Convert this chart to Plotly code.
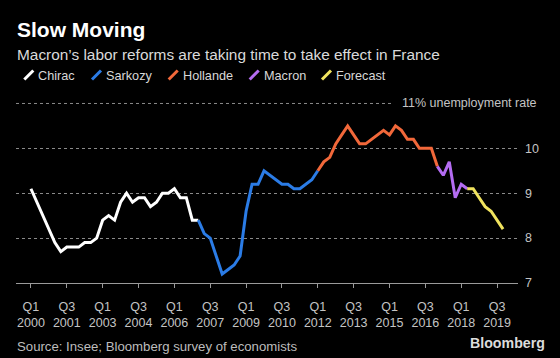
import plotly.graph_objects as go

# ---------------- data ----------------
QUARTERS = [f"Q{q} {y}" for y in range(2000, 2020) for q in range(1, 5)]

CHIRAC_START = "Q1 2000"
CHIRAC = [9.1, 8.8, 8.5, 8.2, 7.9, 7.7, 7.8, 7.8, 7.8, 7.9, 7.9, 8.0, 8.4, 8.5, 8.4,
          8.8, 9.0, 8.8, 8.9, 8.9, 8.7, 8.8, 9.0, 9.0, 9.1, 8.9, 8.9, 8.4, 8.4]
SARKOZY_START = "Q1 2007"
SARKOZY = [8.4, 8.1, 8.0, 7.6, 7.2, 7.3, 7.4, 7.6, 8.6, 9.2, 9.2, 9.5, 9.4, 9.3,
           9.2, 9.2, 9.1, 9.1, 9.2, 9.3, 9.5]
HOLLANDE_START = "Q1 2012"
HOLLANDE = [9.5, 9.7, 9.8, 10.1, 10.3, 10.5, 10.3, 10.1, 10.1, 10.2, 10.3, 10.4,
            10.3, 10.5, 10.4, 10.2, 10.2, 10.0, 10.0, 10.0, 9.6]
MACRON_START = "Q1 2017"
MACRON = [9.6, 9.4, 9.7, 8.9, 9.2, 9.1]
FORECAST_START = "Q2 2018"
FORECAST = [9.1, 9.1, 8.9, 8.7, 8.6, 8.4, 8.2]

TICK_QUARTERS = ["Q1 2000", "Q3 2001", "Q1 2003", "Q3 2004", "Q1 2006", "Q3 2007",
                 "Q1 2009", "Q3 2010", "Q1 2012", "Q3 2013", "Q1 2015", "Q3 2016",
                 "Q1 2018", "Q3 2019"]
TICK_TEXT = [q.replace(" ", "<br>") for q in TICK_QUARTERS]
Y_TICKS = [7, 8, 9, 10]

SERIES = [
    ("Chirac", CHIRAC_START, CHIRAC, "#ffffff"),
    ("Sarkozy", SARKOZY_START, SARKOZY, "#2b7ce6"),
    ("Hollande", HOLLANDE_START, HOLLANDE, "#f2683a"),
    ("Macron", MACRON_START, MACRON, "#b46cf2"),
    ("Forecast", FORECAST_START, FORECAST, "#f0e35e"),
]

# ---------------- layout helpers ----------------
W, H = 560, 358
M_L, M_R, M_T, M_B = 16, 42, 90, 75
FONT = "Liberation Sans, Arial, sans-serif"


def px_x(px):
    return (px - M_L) / (W - M_L - M_R)


def px_y(py):
    return (H - M_B - py) / (H - M_T - M_B)


fig = go.Figure()

for name, start, vals, color in SERIES:
    i0 = QUARTERS.index(start)
    fig.add_trace(go.Scatter(
        x=QUARTERS[i0:i0 + len(vals)], y=vals, mode="lines", name=name,
        line=dict(color=color, width=3), showlegend=False,
        hovertemplate="%{x}: %{y}%<extra>" + name + "</extra>"))

annotations = []
shapes = []

# title / subtitle
annotations.append(dict(text="<b>Slow Moving</b>", x=px_x(15), y=px_y(29),
                        xref="paper", yref="paper", xanchor="left", yanchor="middle",
                        showarrow=False, font=dict(family=FONT, size=21, color="#ffffff")))
annotations.append(dict(text="Macron’s labor reforms are taking time to take effect in France",
                        x=px_x(15), y=px_y(54), xref="paper", yref="paper",
                        xanchor="left", yanchor="middle", showarrow=False,
                        font=dict(family=FONT, size=15.4, color="#dadada")))

# legend (hand-placed entries)
LEGEND_TEXT_X = [37.3, 105, 181.7, 262.7, 335]
for (name, _, _, color), tx in zip(SERIES, LEGEND_TEXT_X):
    shapes.append(dict(type="line", xref="paper", yref="paper",
                       x0=px_x(tx - 13), y0=px_y(79.5), x1=px_x(tx - 4), y1=px_y(70.5),
                       line=dict(color=color, width=3)))
    annotations.append(dict(text=name, x=px_x(tx - 1), y=px_y(76), xref="paper", yref="paper",
                            xanchor="left", yanchor="middle", showarrow=False,
                            font=dict(family=FONT, size=12.7, color="#d8d8d8")))

# 11% gridline + label
shapes.append(dict(type="line", xref="paper", yref="y", x0=0, x1=px_x(393), y0=11, y1=11,
                   line=dict(color="#8a8a8a", width=1, dash="dot")))
annotations.append(dict(text="11% unemployment rate", x=px_x(538.5), y=11, xref="paper", yref="y",
                        xanchor="right", yanchor="middle", showarrow=False,
                        font=dict(family=FONT, size=12.5, color="#c4c4c4")))

# source and logo
annotations.append(dict(text="Source: Insee; Bloomberg survey of economists", x=px_x(15),
                        y=px_y(346), xref="paper", yref="paper", xanchor="left",
                        yanchor="middle", showarrow=False,
                        font=dict(family=FONT, size=13.2, color="#bdbdbd")))
annotations.append(dict(text="<b>Bloomberg</b>", x=px_x(547), y=px_y(342.5), xref="paper",
                        yref="paper", xanchor="right", yanchor="middle", showarrow=False,
                        font=dict(family=FONT, size=14.2, color="#dcdcdc")))

fig.update_layout(
    width=W, height=H,
    margin=dict(l=M_L, r=M_R, t=M_T, b=M_B, pad=0),
    paper_bgcolor="#000000", plot_bgcolor="#000000",
    font=dict(family=FONT, color="#c4c4c4", size=12.5),
    showlegend=False,
    annotations=annotations, shapes=shapes,
    xaxis=dict(type="category", categoryorder="array", categoryarray=QUARTERS,
               range=[-2.5, 81.5], tickmode="array", tickvals=TICK_QUARTERS,
               ticktext=TICK_TEXT, ticks="outside", ticklen=4, tickwidth=1,
               tickcolor="#9a9a9a", showline=True, linecolor="#9a9a9a", linewidth=1,
               showgrid=False, zeroline=False, ticklabelstandoff=8,
               tickfont=dict(family=FONT, size=12.5, color="#c4c4c4")),
    yaxis=dict(side="right", range=[7, 11.3], tickmode="array", tickvals=Y_TICKS,
               showgrid=True, gridcolor="#8a8a8a", gridwidth=1, griddash="dot",
               zeroline=False, showline=False, ticks="", ticklabelstandoff=6,
               tickfont=dict(family=FONT, size=12.5, color="#c4c4c4")),
)

fig.write_html("out.html", config={"displayModeBar": False},
               post_script="document.body.style.margin='0';document.body.style.background='#000';")
